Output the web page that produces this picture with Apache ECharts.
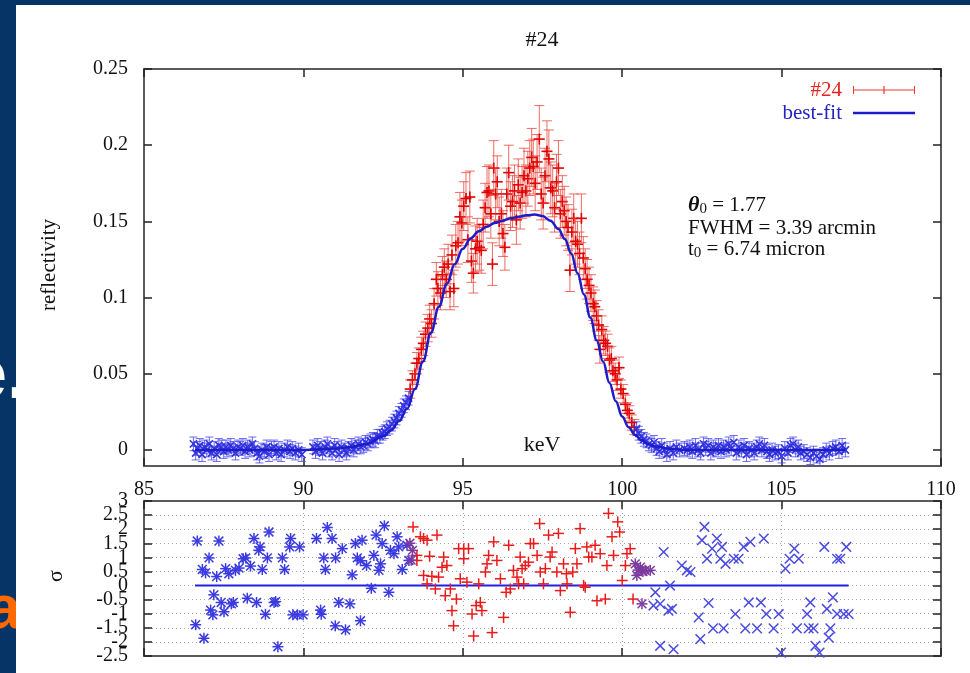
<!DOCTYPE html>
<html>
<head>
<meta charset="utf-8">
<script src="https://cdn.jsdelivr.net/npm/echarts@6/dist/echarts.min.js"></script>
<style>
  html, body { margin: 0; padding: 0; background: #063466; }
  #main { width: 970px; height: 673px; }
</style>
</head>
<body>
<div id="main"></div>
<script>
// ---- data ----
const yTicksMain = [0, 0.05, 0.1, 0.15, 0.2, 0.25];
// residual tick labels, split in two sets so the crowded labels all stay visible
const resLabelsWhole = [3, 2, 1, 0, -1, -2];
const resLabelsHalf = [2.5, 1.5, 0.5, -0.5, -1.5, -2.5];

// blue wings of the reflectivity curve [keV, reflectivity]
const wingLeft = [
  [86.55,0.004],[86.62,-0.002],[86.68,0.001],[86.75,0.003],[86.82,-0.003],[86.9,0.002],[86.97,0.0],
  [87.05,0.004],[87.12,-0.002],[87.2,0.001],[87.28,-0.003],[87.35,0.003],[87.42,0.002],[87.5,-0.001],
  [87.57,0.002],[87.64,0.0],[87.72,0.003],[87.8,0.001],[87.87,-0.002],[87.95,0.002],[88.02,0.001],
  [88.1,0.003],[88.17,-0.001],[88.25,0.002],[88.32,0.0],[88.4,0.004],[88.47,0.001],[88.55,-0.002],
  [88.62,-0.004],[88.7,0.0],[88.77,-0.001],[88.85,0.002],[88.92,-0.003],[89.0,0.001],[89.08,0.002],
  [89.15,-0.002],[89.23,0.001],[89.3,-0.003],[89.4,0.0],[89.5,0.002],[89.58,-0.001],[89.65,0.001],
  [89.75,-0.002],[89.85,0.0],[89.95,-0.003],[90.3,0.002],[90.38,-0.001],[90.45,0.003],[90.52,0.001],
  [90.6,-0.002],[90.68,0.002],[90.75,0.004],[90.82,0.0],[90.9,-0.002],[90.98,0.003],[91.05,0.001],
  [91.12,-0.003],[91.2,0.002],[91.28,0.0],[91.35,-0.002],[91.42,0.001],[91.5,0.003],[91.58,0.0],
  [91.65,0.002],[91.72,0.004],[91.8,0.002],[91.88,0.003],[91.95,0.005],[92.02,0.004],[92.1,0.006],
  [92.18,0.007],[92.25,0.006],[92.32,0.009],[92.4,0.009],[92.48,0.011],[92.55,0.012],[92.62,0.014],
  [92.7,0.015],[92.78,0.017],[92.85,0.019],[92.92,0.021],[93.0,0.024],[93.08,0.026],[93.15,0.029],
  [93.22,0.031],[93.3,0.034]
];
const wingRight = [
  [100.45,0.014],[100.52,0.011],[100.6,0.009],[100.68,0.007],[100.76,0.006],[100.84,0.004],[100.92,0.003],
  [101.0,0.005],[101.08,0.001],[101.16,-0.001],[101.24,0.003],[101.32,0.0],[101.4,-0.003],[101.5,0.001],
  [101.6,-0.002],[101.7,0.002],[101.8,0.0],[101.95,0.001],[102.05,0.0],[102.12,0.002],[102.2,-0.001],
  [102.3,0.003],[102.38,0.0],[102.46,-0.002],[102.55,0.004],[102.62,0.001],[102.7,0.003],[102.78,-0.002],
  [102.86,0.002],[102.94,0.0],[103.02,0.003],[103.1,-0.001],[103.18,0.002],[103.26,0.0],[103.34,0.004],
  [103.42,0.001],[103.5,0.005],[103.58,-0.002],[103.66,0.002],[103.74,0.0],[103.82,0.003],[103.9,-0.003],
  [103.98,0.001],[104.06,0.0],[104.14,-0.002],[104.22,0.002],[104.3,0.004],[104.38,0.0],[104.46,0.003],
  [104.54,-0.001],[104.62,-0.003],[104.7,0.0],[104.8,-0.002],[104.9,-0.001],[105.0,-0.004],[105.1,0.001],
  [105.2,-0.002],[105.28,0.003],[105.36,0.004],[105.44,0.0],[105.52,0.002],[105.6,-0.002],[105.7,-0.001],
  [105.8,-0.003],[105.9,-0.005],[106.0,-0.002],[106.1,-0.004],[106.2,-0.006],[106.3,-0.003],[106.4,0.0],
  [106.5,-0.002],[106.6,0.001],[106.7,0.002],[106.8,-0.001],[106.9,0.003],[107.0,0.0]
];
const wingErr = 0.0045;

// red data "#24" [keV, reflectivity, error]
const peakData = [
  [93.35,0.040,0.006],[93.42,0.046,0.006],[93.50,0.050,0.007],[93.56,0.057,0.007],[93.62,0.060,0.007],
  [93.70,0.066,0.008],[93.76,0.070,0.008],[93.83,0.076,0.008],[93.90,0.080,0.009],[93.96,0.086,0.009],
  [94.02,0.083,0.009],[94.10,0.096,0.010],[94.17,0.112,0.011],[94.22,0.106,0.011],[94.30,0.103,0.011],
  [94.36,0.115,0.012],[94.42,0.120,0.012],[94.48,0.112,0.012],[94.54,0.122,0.013],[94.60,0.104,0.012],
  [94.66,0.128,0.013],[94.72,0.106,0.012],[94.78,0.134,0.014],[94.85,0.136,0.014],[94.91,0.153,0.016],
  [94.97,0.149,0.015],[95.03,0.160,0.016],[95.10,0.165,0.017],[95.16,0.138,0.015],[95.22,0.166,0.017],
  [95.27,0.124,0.014],[95.33,0.116,0.013],[95.40,0.132,0.015],[95.45,0.137,0.015],[95.52,0.133,0.015],
  [95.58,0.131,0.015],[95.64,0.148,0.016],[95.70,0.159,0.016],[95.76,0.169,0.017],[95.82,0.170,0.017],
  [95.88,0.155,0.016],[95.93,0.122,0.014],[95.97,0.185,0.018],[96.03,0.168,0.017],[96.08,0.176,0.017],
  [96.14,0.150,0.016],[96.21,0.155,0.016],[96.26,0.142,0.015],[96.32,0.133,0.015],[96.38,0.168,0.017],
  [96.44,0.182,0.018],[96.50,0.160,0.016],[96.56,0.163,0.017],[96.62,0.170,0.017],[96.68,0.151,0.016],
  [96.74,0.174,0.017],[96.80,0.162,0.017],[96.86,0.169,0.017],[96.92,0.180,0.018],[96.98,0.170,0.017],
  [97.04,0.178,0.018],[97.10,0.185,0.018],[97.16,0.192,0.019],[97.21,0.186,0.018],[97.27,0.175,0.018],
  [97.33,0.189,0.018],[97.40,0.204,0.022],[97.46,0.168,0.017],[97.52,0.162,0.017],[97.58,0.180,0.018],
  [97.64,0.196,0.020],[97.70,0.191,0.019],[97.76,0.172,0.017],[97.82,0.170,0.017],[97.88,0.159,0.016],
  [97.94,0.176,0.018],[98.00,0.185,0.018],[98.06,0.155,0.016],[98.12,0.163,0.017],[98.18,0.157,0.016],
  [98.24,0.150,0.016],[98.30,0.146,0.015],[98.36,0.118,0.014],[98.42,0.143,0.015],[98.48,0.152,0.016],
  [98.54,0.137,0.015],[98.60,0.135,0.015],[98.66,0.129,0.014],[98.72,0.152,0.016],[98.78,0.126,0.014],
  [98.84,0.119,0.013],[98.90,0.112,0.013],[98.96,0.108,0.012],[99.02,0.103,0.012],[99.09,0.096,0.011],
  [99.14,0.094,0.011],[99.20,0.088,0.010],[99.26,0.082,0.010],[99.30,0.066,0.009],[99.36,0.079,0.009],
  [99.42,0.072,0.009],[99.48,0.070,0.008],[99.54,0.068,0.008],[99.60,0.059,0.008],[99.66,0.060,0.008],
  [99.71,0.052,0.007],[99.78,0.050,0.007],[99.84,0.046,0.007],[99.90,0.054,0.007],[99.96,0.040,0.006],
  [100.03,0.037,0.006],[100.10,0.030,0.006],[100.16,0.026,0.005],[100.22,0.024,0.005],[100.30,0.018,0.005],
  [100.38,0.015,0.005]
];

// best-fit curve [keV, reflectivity]
const fitCurve = [
  [86.6,0.0],[88.0,0.0],[90.0,0.0],[91.0,0.001],[91.5,0.002],[92.0,0.004],[92.5,0.009],[92.75,0.013],
  [93.0,0.019],[93.25,0.027],[93.5,0.040],[93.75,0.058],[94.0,0.077],[94.25,0.094],[94.5,0.109],
  [94.75,0.122],[95.0,0.132],[95.25,0.139],[95.5,0.1435],[95.75,0.1465],[96.0,0.149],[96.25,0.1505],
  [96.5,0.152],[96.75,0.153],[97.0,0.154],[97.25,0.1545],[97.5,0.1535],[97.75,0.1505],[98.0,0.145],
  [98.2,0.1385],[98.4,0.129],[98.6,0.116],[98.8,0.102],[99.0,0.087],[99.2,0.072],[99.4,0.058],
  [99.6,0.044],[99.8,0.032],[100.0,0.022],[100.2,0.015],[100.4,0.010],[100.6,0.0065],[100.8,0.004],
  [101.0,0.0025],[101.5,0.0008],[102.0,0.0],[104.0,0.0],[107.0,0.0]
];

// residuals [keV, sigma]
const resStar = [
  [86.67,1.58],[87.35,1.58],[86.62,-1.39],[86.88,-1.87],[86.83,0.57],[86.93,0.45],[87.04,0.98],[87.28,0.32],
  [87.19,-0.33],[87.42,-0.6],[87.09,-0.87],[87.16,-1.04],[87.51,-0.93],[87.56,0.6],[87.66,0.42],[87.74,-0.65],
  [87.8,-0.6],[87.87,0.54],[87.98,0.62],[88.11,0.95],[88.19,0.98],[88.34,0.69],[88.24,-0.45],[88.53,-0.6],
  [88.45,1.67],[88.64,1.37],[88.6,1.25],[88.92,1.9],[88.87,0.98],[88.71,0.57],[88.81,-1.02],[89.08,-0.6],
  [89.13,-0.57],[89.2,-2.17],[89.34,0.98],[89.41,0.57],[89.57,1.37],[89.6,1.67],[89.88,1.37],[89.67,-1.04],
  [89.81,-1.04],[89.99,-1.04],[90.41,1.67],[90.75,2.06],[90.9,1.67],[91.22,1.31],[90.64,0.98],[90.69,0.57],
  [90.54,-0.87],[90.56,-1.02],[91.01,0.98],[91.11,-0.6],[91.46,-0.65],[91.0,-1.43],[91.32,-1.57],[91.53,0.38],
  [91.63,1.49],[91.84,1.61],[91.69,0.98],[91.79,0.88],[91.79,-1.25],[91.98,0.71],[92.21,1.07],[92.13,-0.1],
  [92.28,1.79],[92.54,2.12],[92.42,0.77],[92.37,0.54],[92.47,1.49],[92.68,-0.24],[92.73,1.25],[92.94,1.73],
  [92.84,1.13],[92.99,1.37],[93.1,0.57],[93.25,1.43],[93.31,0.89]
];
const resPlus = [
  [93.44,2.08],[93.67,1.73],[93.77,1.67],[93.88,1.61],[94.19,1.79],[93.56,1.07],[93.56,0.89],[93.96,1.04],
  [93.77,0.36],[94.03,0.33],[94.24,0.3],[93.88,0.06],[94.14,-0.12],[94.4,1.01],[94.35,0.65],[94.5,0.71],
  [94.45,-0.36],[94.61,-0.12],[94.8,-0.48],[94.66,-0.89],[94.71,-1.43],[94.87,1.31],[95.03,1.31],[95.18,1.31],
  [95.03,0.95],[94.92,0.24],[95.13,0.12],[95.34,-1.79],[95.29,-1.01],[95.42,-0.71],[95.55,-0.6],[95.6,-0.89],
  [95.5,0.06],[95.71,0.48],[95.76,0.77],[95.81,1.07],[95.97,1.55],[96.07,0.89],[95.92,-1.67],[96.18,0.24],
  [96.28,-1.13],[96.36,-0.24],[96.49,-0.12],[96.44,1.43],[96.59,0.54],[96.7,0.3],[96.8,1.01],[96.86,0.6],
  [96.96,0.71],[97.06,0.83],[96.75,0.06],[96.91,0.06],[97.12,1.49],[97.22,1.49],[97.33,1.07],[97.41,2.2],
  [97.53,0.06],[97.43,0.48],[97.59,0.6],[97.69,1.79],[97.74,1.01],[97.8,1.19],[97.95,0.48],[98.0,1.85],
  [98.06,-0.18],[98.16,0.77],[98.25,0.42],[98.27,0.06],[98.37,-0.95],[98.45,0.48],[98.53,1.31],[98.58,0.77],
  [98.68,2.02],[98.79,0.0],[98.84,-0.06],[98.89,1.37],[98.95,1.01],[99.05,1.01],[99.15,1.43],[99.21,-0.54],
  [99.31,1.13],[99.47,-0.48],[99.52,0.71],[99.57,2.56],[99.68,1.73],[99.73,1.07],[99.86,2.26],[99.92,1.9],
  [100.0,0.18],[100.1,0.71],[100.15,1.13],[100.25,1.31],[100.34,-0.48]
];
const resMixed = [
  [93.34,1.5],[93.42,1.25],[93.38,0.9],[100.41,0.77],[100.46,0.36],[100.5,0.55],[100.57,0.65],
  [100.62,-0.65],[100.65,0.5],[100.72,0.54],[100.88,0.54]
];
const resCross = [
  [101.3,1.19],[101.5,0.0],[101.04,-0.24],[100.98,-0.71],[101.19,-0.65],[101.45,-0.89],[101.56,-0.83],
  [101.19,-2.14],[101.61,-2.26],[101.87,0.71],[102.03,0.54],[102.14,0.48],[102.58,2.08],[102.5,1.61],
  [102.4,-1.13],[102.45,-1.9],[102.71,-0.62],[102.66,0.95],[102.82,1.31],[102.97,1.67],[103.08,0.95],
  [103.13,1.37],[102.85,-1.52],[103.18,-1.52],[103.24,0.77],[103.5,0.95],[103.65,0.95],[103.55,-1.01],
  [103.81,1.37],[104.02,1.55],[103.97,-0.6],[103.86,-1.52],[104.23,-1.52],[104.35,-0.6],[104.44,1.67],
  [104.52,-1.01],[104.75,-1.52],[104.91,-1.01],[104.98,-2.38],[105.12,0.6],[105.25,0.95],[105.4,1.31],
  [105.54,0.95],[105.48,-1.52],[105.8,-1.01],[105.9,-0.6],[105.85,-1.52],[106.0,-1.52],[106.06,-2.14],
  [106.19,-2.38],[106.34,1.37],[106.42,-0.83],[106.53,-1.52],[106.48,-1.85],[106.61,-0.42],[106.74,0.95],
  [106.84,0.95],[107.03,1.37],[106.74,-1.01],[106.95,-1.01],[107.1,-1.01]
];
const zeroLine = [[86.6, 0], [107.1, 0]];

// ---- drawing helpers ----
const SERIF = 'Liberation Serif';

function markLines(kind, c, r, style) {
  const segs = [];
  if (kind === 'plus' || kind === 'star') {
    segs.push([c[0] - r, c[1], c[0] + r, c[1]], [c[0], c[1] - r, c[0], c[1] + r]);
  }
  if (kind === 'cross' || kind === 'star') {
    const d = r * 0.8;
    segs.push([c[0] - d, c[1] - d, c[0] + d, c[1] + d], [c[0] - d, c[1] + d, c[0] + d, c[1] - d]);
  }
  return segs.map(s => ({ type: 'line', shape: { x1: s[0], y1: s[1], x2: s[2], y2: s[3] }, style: style }));
}

function errorBars(barColor, markColor, cap, kind, r, fixedErr) {
  return function (params, api) {
    const x = api.value(0), y = api.value(1);
    const e = fixedErr != null ? fixedErr : api.value(2);
    const c = api.coord([x, y]);
    const hi = api.coord([x, y + e]);
    const lo = api.coord([x, y - e]);
    const s = { stroke: barColor, lineWidth: 1 };
    const children = [
      { type: 'line', shape: { x1: c[0], y1: hi[1], x2: c[0], y2: lo[1] }, style: s },
      { type: 'line', shape: { x1: c[0] - cap, y1: hi[1], x2: c[0] + cap, y2: hi[1] }, style: s },
      { type: 'line', shape: { x1: c[0] - cap, y1: lo[1], x2: c[0] + cap, y2: lo[1] }, style: s }
    ].concat(markLines(kind, c, r, { stroke: markColor, lineWidth: 1.6 }));
    return { type: 'group', children: children };
  };
}

function markers(color, kind, r) {
  return function (params, api) {
    const c = api.coord([api.value(0), api.value(1)]);
    return { type: 'group', children: markLines(kind, c, r, { stroke: color, lineWidth: 1.5 }) };
  };
}

const axisLineStyle = { color: '#5a5a5a', width: 2 };
const tickStyle = { color: '#222', width: 1.5 };

function frameAxis(grid, pos, extra) {
  return Object.assign({
    gridIndex: grid, type: 'value', position: pos,
    axisLine: { onZero: false, lineStyle: axisLineStyle },
    axisTick: { inside: true, length: 8, lineStyle: tickStyle },
    axisLabel: { show: false },
    splitLine: { show: false }
  }, extra);
}

const dotted = { show: true, lineStyle: { color: '#a8a8a8', width: 1, type: [1, 3] } };
const tickFont = { show: true, margin: 16, color: '#111', fontFamily: SERIF, fontSize: 20 };

const chart = echarts.init(document.getElementById('main'));
chart.setOption({
  backgroundColor: '#063466',
  animation: false,
  grid: [
    { left: 144, top: 69, width: 797, height: 397 },
    { left: 144, top: 501, width: 797, height: 155 }
  ],
  legend: {
    orient: 'vertical', right: 50, top: 74, align: 'right',
    itemWidth: 62, itemHeight: 10, itemGap: 1,
    textStyle: { fontFamily: SERIF, fontSize: 21, lineHeight: 22, padding: [0, 6, 0, 0] },
    data: [
      { name: '#24', icon: 'path://M0,4.5h62v1h-62z M0,1h1v8h-1z M61,1h1v8h-1z M30.4,1h1.2v8h-1.2z',
        textStyle: { color: '#e8231d' } },
      { name: 'best-fit', icon: 'path://M0,0h62v2.5h-62z', textStyle: { color: '#2424c4' } }
    ]
  },
  xAxis: [
    frameAxis(0, 'bottom', {
      min: 85, max: 110, interval: 5,
      axisLabel: Object.assign({}, tickFont, { margin: 14 })
    }),
    frameAxis(0, 'top', { min: 85, max: 110, interval: 5 }),
    frameAxis(1, 'bottom', { min: 85, max: 110, interval: 5, splitLine: dotted }),
    frameAxis(1, 'top', { min: 85, max: 110, interval: 5 })
  ],
  yAxis: [
    frameAxis(0, 'left', {
      min: -0.0105, max: 0.25,
      axisTick: { inside: true, length: 8, lineStyle: tickStyle, customValues: yTicksMain },
      axisLabel: Object.assign({}, tickFont, {
        customValues: yTicksMain, formatter: v => String(+(+v).toFixed(2))
      })
    }),
    frameAxis(0, 'right', {
      min: -0.0105, max: 0.25,
      axisTick: { inside: true, length: 8, lineStyle: tickStyle, customValues: yTicksMain }
    }),
    frameAxis(1, 'left', {
      min: -2.5, max: 3, interval: 0.5, splitLine: dotted,
      axisLabel: Object.assign({}, tickFont, { customValues: resLabelsWhole })
    }),
    frameAxis(1, 'right', { min: -2.5, max: 3, interval: 0.5 }),
    // second label carrier on the same scale for the half-step labels
    frameAxis(1, 'left', {
      min: -2.5, max: 3,
      axisLine: { show: false, onZero: false },
      axisTick: { show: false },
      axisLabel: Object.assign({}, tickFont, { customValues: resLabelsHalf })
    })
  ],
  series: [
    {
      name: '#24', type: 'custom', xAxisIndex: 0, yAxisIndex: 0, z: 2, clip: true,
      itemStyle: { color: '#ee3a30' },
      renderItem: errorBars('rgba(232,60,50,0.75)', '#e00000', 5, 'plus', 5.5, null),
      data: peakData
    },
    {
      name: 'wings', type: 'custom', xAxisIndex: 0, yAxisIndex: 0, z: 3, clip: true,
      itemStyle: { color: '#3838e0' },
      renderItem: errorBars('rgba(70,70,235,0.8)', '#3030dd', 4, 'cross', 4.5, wingErr),
      data: wingLeft.concat(wingRight)
    },
    {
      name: 'best-fit', type: 'line', xAxisIndex: 0, yAxisIndex: 0, z: 4,
      smooth: 0.4, smoothMonotone: 'x', symbol: 'none',
      itemStyle: { color: '#1c1cc8' },
      lineStyle: { color: '#1c1cc8', width: 2.5 },
      data: fitCurve
    },
    {
      name: 'zero', type: 'line', xAxisIndex: 2, yAxisIndex: 2, z: 2, symbol: 'none',
      lineStyle: { color: '#2020e6', width: 2 },
      data: zeroLine
    },
    {
      name: 'resStar', type: 'custom', xAxisIndex: 2, yAxisIndex: 2, z: 3,
      renderItem: markers('#3a3ae0', 'star', 5.5), data: resStar
    },
    {
      name: 'resPlus', type: 'custom', xAxisIndex: 2, yAxisIndex: 2, z: 3,
      renderItem: markers('#ea1a1a', 'plus', 5.5), data: resPlus
    },
    {
      name: 'resMixed', type: 'custom', xAxisIndex: 2, yAxisIndex: 2, z: 3,
      renderItem: markers('#7b3a9e', 'star', 5.5), data: resMixed
    },
    {
      name: 'resCross', type: 'custom', xAxisIndex: 2, yAxisIndex: 2, z: 3,
      renderItem: markers('#4a4ae0', 'cross', 6), data: resCross
    }
  ],
  graphic: [
    { type: 'text', z: -20, x: 27, y: 378,
      style: { text: 'e.', fill: '#ffffff', font: 'bold 72px Liberation Sans', align: 'right', verticalAlign: 'middle' } },
    { type: 'text', z: -20, x: 21, y: 611,
      style: { text: 'a', fill: '#ff6a00', font: 'bold 62px Liberation Sans', align: 'right', verticalAlign: 'middle' } },
    { type: 'rect', z: -10, shape: { x: 16, y: 5, width: 954, height: 668 }, style: { fill: '#ffffff' } },
    { type: 'text', x: 542, y: 40,
      style: { text: '#24', fill: '#111', font: '22px Liberation Serif', align: 'center', verticalAlign: 'middle' } },
    { type: 'text', x: 49, y: 265, rotation: Math.PI / 2,
      style: { text: 'reflectivity', fill: '#111', font: '21px Liberation Serif', align: 'center', verticalAlign: 'middle' } },
    { type: 'text', x: 56, y: 576, rotation: Math.PI / 2,
      style: { text: 'σ', fill: '#111', font: '22px Liberation Serif', align: 'center', verticalAlign: 'middle' } },
    { type: 'text', x: 542, y: 445,
      style: { text: 'keV', fill: '#111', font: '22px Liberation Serif', align: 'center', verticalAlign: 'middle' } },
    { type: 'text', x: 688, y: 205,
      style: {
        text: '{th|θ}{sub|0} = 1.77', fill: '#111', font: '21px Liberation Serif', verticalAlign: 'middle',
        rich: {
          th: { fontFamily: SERIF, fontSize: 22, fontStyle: 'italic', fontWeight: 'bold', lineHeight: 22 },
          sub: { fontFamily: SERIF, fontSize: 15, lineHeight: 22, padding: [9, 0, 0, 0] }
        }
      } },
    { type: 'text', x: 688, y: 228,
      style: { text: 'FWHM = 3.39 arcmin', fill: '#111', font: '21px Liberation Serif', verticalAlign: 'middle' } },
    { type: 'text', x: 688, y: 249,
      style: {
        text: 't{sub|0} = 6.74 micron', fill: '#111', font: '21px Liberation Serif', verticalAlign: 'middle',
        rich: { sub: { fontFamily: SERIF, fontSize: 15, lineHeight: 22, padding: [9, 0, 0, 0] } }
      } }
  ]
});
</script>
</body>
</html>
